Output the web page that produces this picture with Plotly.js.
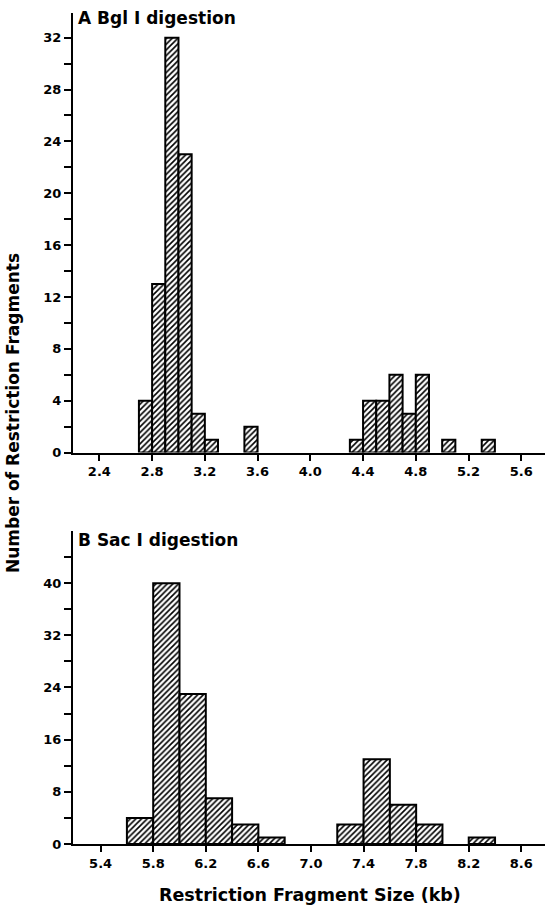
<!DOCTYPE html>
<html>
<head>
<meta charset="utf-8">
<script src="https://cdn.plot.ly/plotly-3.0.1.min.js"></script>
<style>html,body{margin:0;padding:0;background:#fff;}#chart{width:545px;height:910px;}</style>
</head>
<body>
<div id="chart"></div>
<script>
// Panel A: Bgl I digestion (bin left edges, kb; bin width 0.1 kb)
const bglBinStart = [2.7, 2.8, 2.9, 3.0, 3.1, 3.2, 3.5, 4.3, 4.4, 4.5, 4.6, 4.7, 4.8, 5.0, 5.3];
const bglCounts   = [4, 13, 32, 23, 3, 1, 2, 1, 4, 4, 6, 3, 6, 1, 1];
const bglBinWidth = 0.1;

// Panel B: Sac I digestion (bin left edges, kb; bin width 0.2 kb)
const sacBinStart = [5.6, 5.8, 6.0, 6.2, 6.4, 6.6, 7.2, 7.4, 7.6, 7.8, 8.2];
const sacCounts   = [4, 40, 23, 7, 3, 1, 3, 13, 6, 3, 1];
const sacBinWidth = 0.2;

// Tick labels
const bglXTicks = [2.4, 2.8, 3.2, 3.6, 4.0, 4.4, 4.8, 5.2, 5.6];
const bglXTickText = ["2.4", "2.8", "3.2", "3.6", "4.0", "4.4", "4.8", "5.2", "5.6"];
const bglYTicks = [0, 2, 4, 6, 8, 10, 12, 14, 16, 18, 20, 22, 24, 26, 28, 30, 32];
const bglYTickText = ["0", "", "4", "", "8", "", "12", "", "16", "", "20", "", "24", "", "28", "", "32"];
const sacXTicks = [5.4, 5.8, 6.2, 6.6, 7.0, 7.4, 7.8, 8.2, 8.6];
const sacXTickText = ["5.4", "5.8", "6.2", "6.6", "7.0", "7.4", "7.8", "8.2", "8.6"];
const sacYTicks = [0, 4, 8, 12, 16, 20, 24, 28, 32, 36, 40, 44];
const sacYTickText = ["0", "", "8", "", "16", "", "24", "", "32", "", "40", ""];

const FONT = "'DejaVu Sans', sans-serif";

const barStyle = {
  color: "#ffffff",
  line: {color: "#000", width: 2},
  pattern: {shape: "/", fgcolor: "#000", bgcolor: "#fff", size: 4, solidity: 0.4}
};

const traces = [
  {type: "bar", x: bglBinStart, y: bglCounts, width: bglBinWidth, offset: 0,
   marker: barStyle, xaxis: "x", yaxis: "y", hoverinfo: "x+y"},
  {type: "bar", x: sacBinStart, y: sacCounts, width: sacBinWidth, offset: 0,
   marker: barStyle, xaxis: "x2", yaxis: "y2", hoverinfo: "x+y"}
];

const axisCommon = {
  showgrid: false, zeroline: false, showline: true, linecolor: "#000", linewidth: 2,
  ticks: "outside", tickwidth: 2, tickcolor: "#000",
  tickfont: {family: FONT, size: 13, color: "#000", weight: "bold"},
  tickmode: "array"
};

const layout = {
  width: 545, height: 910,
  margin: {l: 73, r: 0, t: 13, b: 66},
  paper_bgcolor: "#fff", plot_bgcolor: "#fff",
  showlegend: false, bargap: 0,
  xaxis: Object.assign({}, axisCommon, {domain: [0, 1], range: [2.2, 5.78], ticklen: 6,
    tickvals: bglXTicks, ticktext: bglXTickText, anchor: "y"}),
  yaxis: Object.assign({}, axisCommon, {domain: [0.471, 1], range: [0, 33.9], ticklen: 7,
    tickvals: bglYTicks, ticktext: bglYTickText, anchor: "x"}),
  xaxis2: Object.assign({}, axisCommon, {domain: [0, 1], range: [5.19, 8.78], ticklen: 6,
    tickvals: sacXTicks, ticktext: sacXTickText, anchor: "y2"}),
  yaxis2: Object.assign({}, axisCommon, {domain: [0, 0.3767], range: [0, 48], ticklen: 7,
    tickvals: sacYTicks, ticktext: sacYTickText, anchor: "x2"}),
  annotations: [
    {text: "A Bgl I digestion", xref: "paper", yref: "paper", x: 0, y: 1,
     xanchor: "left", yanchor: "top", xshift: 3, yshift: 7, showarrow: false,
     font: {family: FONT, size: 17, color: "#000", weight: "bold"}},
    {text: "B Sac I digestion", xref: "paper", yref: "paper", x: 0, y: 0.3767,
     xanchor: "left", yanchor: "top", xshift: 3, yshift: 3, showarrow: false,
     font: {family: FONT, size: 17, color: "#000", weight: "bold"}},
    {text: "Number of Restriction Fragments", xref: "paper", yref: "paper",
     x: 0, y: 0.5187, xshift: -60, textangle: -90, showarrow: false,
     xanchor: "center", yanchor: "middle",
     font: {family: FONT, size: 17, color: "#000", weight: "bold"}},
    {text: "Restriction Fragment Size (kb)", xref: "paper", yref: "paper",
     x: 0.502, y: 0, yshift: -51, showarrow: false, xanchor: "center", yanchor: "middle",
     font: {family: FONT, size: 17.5, color: "#000", weight: "bold"}}
  ]
};

Plotly.newPlot("chart", traces, layout, {displayModeBar: false, staticPlot: true});
</script>
</body>
</html>
